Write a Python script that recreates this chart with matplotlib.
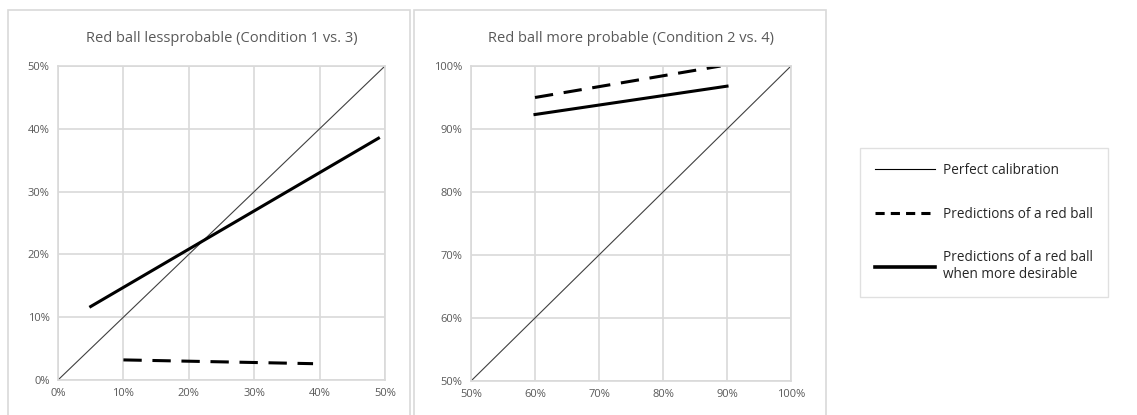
import matplotlib.pyplot as plt
import matplotlib.patches as patches
from matplotlib.lines import Line2D
from matplotlib.ticker import PercentFormatter

# datos
left_diag = [0, 50]
left_desir_x = [5, 49]
left_desir_y = [11.7, 38.5]
left_pred_x = [10, 39]
left_pred_y = [3.2, 2.6]
left_ticks = [0, 10, 20, 30, 40, 50]

right_diag = [50, 100]
right_desir_x = [60, 90]
right_desir_y = [92.3, 96.8]
right_pred_x = [60, 89]
right_pred_y = [95.0, 100.0]
right_ticks = [50, 60, 70, 80, 90, 100]

titles = ["Red ball lessprobable (Condition 1 vs. 3)",
          "Red ball more probable (Condition 2 vs. 4)"]
legend_labels = ["Perfect calibration", "Predictions of a red ball",
                 "Predictions of a red ball\nwhen more desirable"]

plt.rcParams['font.family'] = ['Open Sans', 'DejaVu Sans']
txt = "#595959"
grid = "#d9d9d9"

fig = plt.figure(figsize=(11.37, 4.15), dpi=100)

# marcos de los paneles
for x0, x1 in [(8, 410), (414, 826)]:
    fig.patches.append(patches.Rectangle((x0 / 1137, -0.05), (x1 - x0) / 1137, 1 - 10 / 415 + 0.05,
                                         transform=fig.transFigure, fill=False,
                                         edgecolor=grid, lw=1.2))

ax1 = fig.add_axes([58 / 1137, 1 - 380 / 415, 327 / 1137, 314 / 415])
ax2 = fig.add_axes([471 / 1137, 1 - 381 / 415, 320 / 1137, 315 / 415])

panels = [
    (ax1, left_diag, left_pred_x, left_pred_y, left_desir_x, left_desir_y, left_ticks, titles[0]),
    (ax2, right_diag, right_pred_x, right_pred_y, right_desir_x, right_desir_y, right_ticks, titles[1]),
]
for ax, diag, px, py, dx, dy, ticks, title in panels:
    ax.plot(diag, diag, color="#404040", lw=0.8)
    ax.plot(px, py, color="black", lw=2.2, dashes=(6, 3.5))
    ax.plot(dx, dy, color="black", lw=2.2)
    ax.set_xlim(ticks[0], ticks[-1])
    ax.set_ylim(ticks[0], ticks[-1])
    ax.set_xticks(ticks)
    ax.set_yticks(ticks)
    ax.xaxis.set_major_formatter(PercentFormatter(decimals=0))
    ax.yaxis.set_major_formatter(PercentFormatter(decimals=0))
    ax.grid(True, color=grid, lw=1.2)
    ax.set_axisbelow(True)
    for s in ax.spines.values():
        s.set_color(grid)
        s.set_linewidth(1.2)
    ax.tick_params(length=0, labelsize=8, labelcolor=txt, pad=6)
    ax.set_title(title, fontsize=10.5, color=txt, pad=17)

handles = [Line2D([], [], color="black", lw=0.8),
           Line2D([], [], color="black", lw=2.2, dashes=(3, 2)),
           Line2D([], [], color="black", lw=2.6)]
leg = fig.legend(handles, legend_labels, loc="upper left",
                 bbox_to_anchor=(860 / 1137, 1 - 148 / 415), fontsize=9.8,
                 frameon=True, fancybox=False, edgecolor=grid, handlelength=4.4,
                 labelspacing=2.1, borderpad=1.1, handletextpad=0.6,
                 borderaxespad=0)
for t in leg.get_texts():
    t.set_color("#262626")

fig.savefig("out.png", dpi=100)
